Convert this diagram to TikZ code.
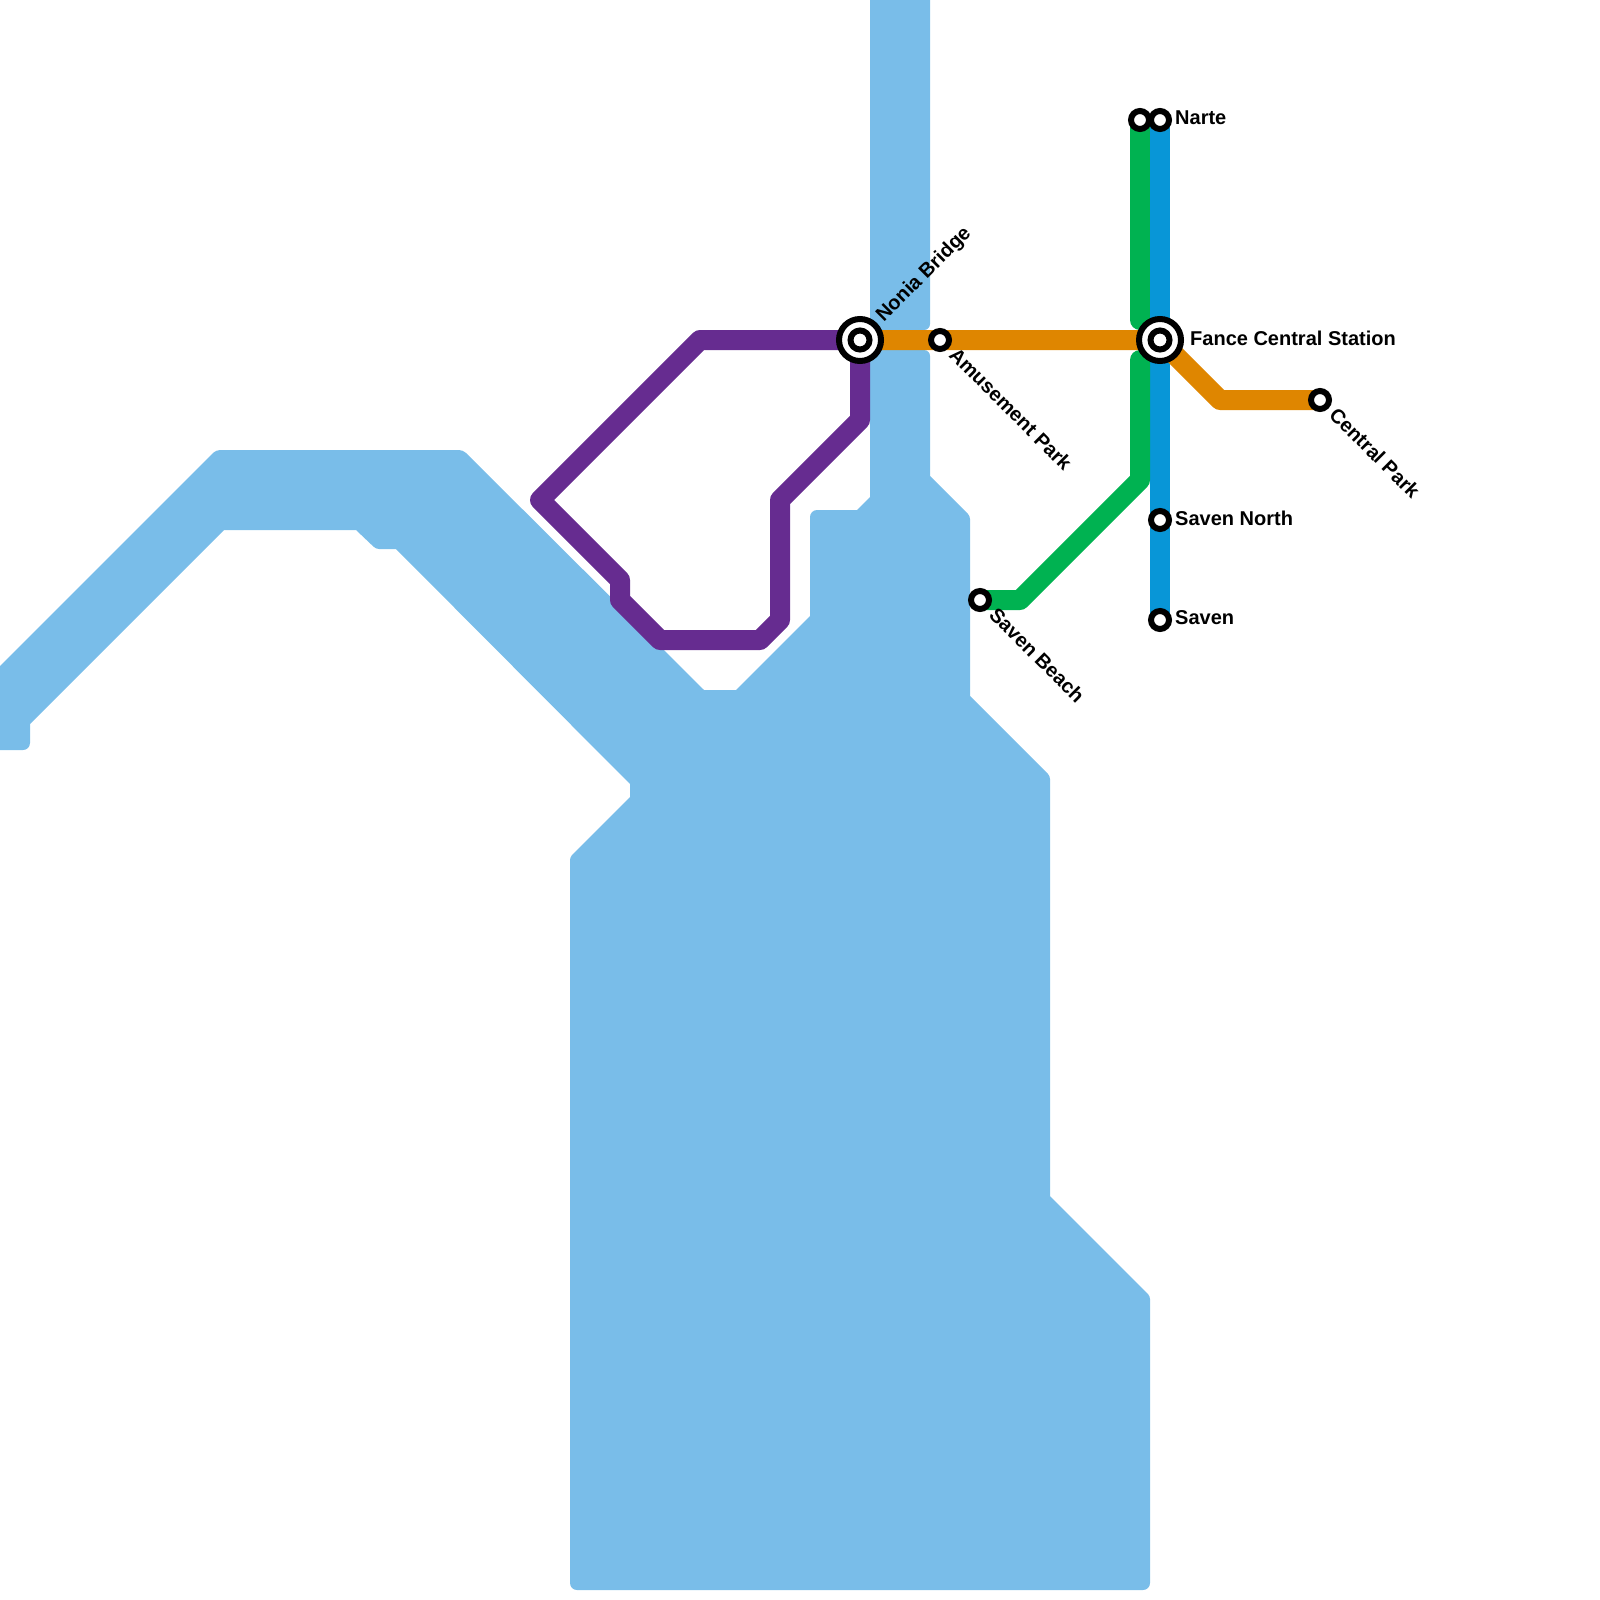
\documentclass[tikz,border=0pt]{standalone}
\usepackage{fontspec}
\setmainfont{Liberation Sans}
\definecolor{water}{HTML}{79BDE9}
\definecolor{lorange}{HTML}{DF8600}
\definecolor{lgreen}{HTML}{00B251}
\definecolor{lblue}{HTML}{0896D7}
\definecolor{lpurple}{HTML}{662C90}
\pgfdeclarelayer{bg}
\pgfsetlayers{bg,main}
\tikzset{
  stn/.style={circle,draw=black,fill=white,line width=6pt,minimum size=18pt,inner sep=0pt},
  hubouter/.style={circle,draw=black,fill=white,line width=6pt,minimum size=42pt,inner sep=0pt},
  hubinner/.style={circle,draw=black,fill=white,line width=6pt,minimum size=19pt,inner sep=0pt},
  lbl/.style={font=\fontsize{20}{24}\selectfont\bfseries,text=black,inner sep=0pt,anchor=west},
  metro/.style={line width=20pt,line join=round,line cap=butt},
  watershape/.style={fill=water,draw=none}
}
\begin{document}
\begin{tikzpicture}[x=1pt,y=-1pt]
\useasboundingbox (0,0) rectangle (1600,1600);
% stations
\node[hubouter] (nonia) at (860,340) {};
\node[hubinner] (noniaC) at (860,340) {};
\node[hubouter] (fance) at (1160,340) {};
\node[hubinner] (fanceC) at (1160,340) {};
\node[stn] (amuse) at (940,340) {};
\node[stn] (central) at (1320,400) {};
\node[stn] (narteG) at (1140,120) {};
\node[stn] (narteB) at (1160,120) {};
\node[stn] (north) at (1160,520) {};
\node[stn] (saven) at (1160,620) {};
\node[stn] (beach) at (980,600) {};
% labels
\node[lbl] (lNarte) at (1175,118) {Narte};
\node[lbl] (lFance) at (1190,338) {Fance Central Station};
\node[lbl] (lNorth) at (1175,518) {Saven North};
\node[lbl] (lSaven) at (1175,618) {Saven};
\node[lbl,rotate=45] (lNonia) at (880,319) {Nonia Bridge};
\node[lbl,rotate=-45] (lAmuse) at (953,351) {Amusement Park};
\node[lbl,rotate=-45] (lCentral) at (1333,411) {Central Park};
\node[lbl,rotate=-45] (lBeach) at (993,611) {Saven Beach};
% turning points
\coordinate (p1) at (700,340);
\coordinate (p2) at (540,500);
\coordinate (p3) at (620,580);
\coordinate (p4) at (620,600);
\coordinate (p5) at (660,640);
\coordinate (p6) at (760,640);
\coordinate (p7) at (780,620);
\coordinate (p8) at (780,500);
\coordinate (p9) at (860,420);
\coordinate (o1) at (1220,400);
\coordinate (g1) at (1140,320);
\coordinate (g2) at (1140,360);
\coordinate (g3) at (1140,480);
\coordinate (g4) at (1020,600);
\begin{pgfonlayer}{bg}
\fill[watershape]
  (870,-5) -- (930,-5) [rounded corners=6pt] -- (930,330) [sharp corners] -- (922,330) -- (922,350)
  [rounded corners=6pt] -- (930,350) [sharp corners] -- (930,476) [rounded corners=3pt] -- (970,516) [sharp corners]
  -- (970,696) [rounded corners=3pt] -- (1050,776) [sharp corners] -- (1050,1196)
  [rounded corners=3pt] -- (1150,1296) [rounded corners=7pt] -- (1150,1590) -- (570,1590) [rounded corners=3pt] -- (570,857) [sharp corners]
  -- (630,797) -- (630,784) -- (396,549)
  [rounded corners=3pt] -- (376,549) [sharp corners] -- (356,530) -- (224,530) -- (30,724) [rounded corners=7pt] -- (30,750)
  [sharp corners] -- (-5,750) -- (-5,671) [rounded corners=4pt] -- (216,450) -- (463,450) [sharp corners]
  -- (704,690) -- (736,690) -- (810,616) [rounded corners=7pt] -- (810,510)
  [sharp corners] -- (857,510) -- (870,497) -- cycle;
\draw[metro,lblue] (narteB.center) -- (north.center) -- (saven.center);
\draw[metro,lgreen,line cap=round] (narteG.center) -- (g1);
\draw[metro,lgreen,line cap=round] (g2) -- (g3) -- (g4) -- (beach.center);
\draw[metro,lorange] (nonia.center) -- (amuse.center) -- (fance.center) -- (o1) -- (central.center);
\draw[metro,lpurple] (nonia.center) -- (p1) -- (p2) -- (p3) -- (p4) -- (p5) -- (p6) -- (p7) -- (p8) -- (p9) -- cycle;
\end{pgfonlayer}
\end{tikzpicture}
\end{document}
